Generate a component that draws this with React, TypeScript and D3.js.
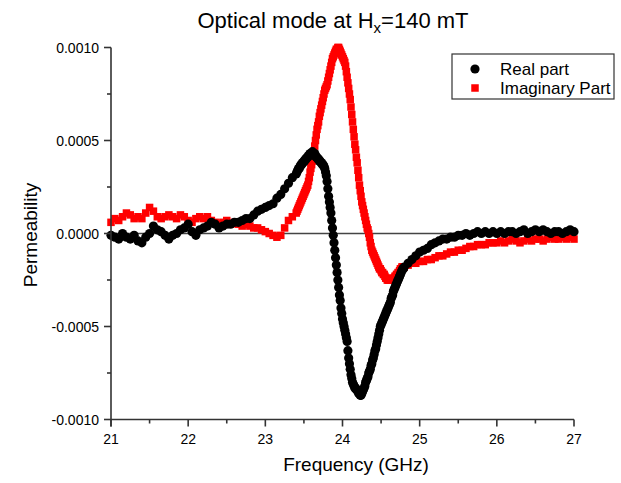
import React from 'react';
import * as d3 from 'd3';

// Frequencies (GHz): coarse outside the resonance, fine through it
const frequencyLow = [
  21.0, 21.05, 21.1, 21.15, 21.2, 21.25, 21.3, 21.35, 21.4, 21.45,
  21.5, 21.55, 21.6, 21.65, 21.7, 21.75, 21.8, 21.85, 21.9, 21.95,
  22.0, 22.05, 22.1, 22.15, 22.2, 22.25, 22.3, 22.35, 22.4, 22.45,
  22.5, 22.55, 22.6, 22.65, 22.7, 22.75, 22.8, 22.85, 22.9, 22.95,
  23.0, 23.05, 23.1, 23.15, 23.2, 23.25, 23.3, 23.35, 23.4,
];
const frequencyMid = [
  23.41, 23.42, 23.43, 23.44, 23.45, 23.46, 23.47, 23.48, 23.49, 23.5,
  23.51, 23.52, 23.53, 23.54, 23.55, 23.56, 23.57, 23.58, 23.59, 23.6,
  23.61, 23.62, 23.63, 23.64, 23.65, 23.66, 23.67, 23.68, 23.69, 23.7,
  23.71, 23.72, 23.73, 23.74, 23.75, 23.76, 23.77, 23.78, 23.79, 23.8,
  23.81, 23.82, 23.83, 23.84, 23.85, 23.86, 23.87, 23.88, 23.89, 23.9,
  23.91, 23.92, 23.93, 23.94, 23.95, 23.96, 23.97, 23.98, 23.99, 24.0,
  24.01, 24.02, 24.03, 24.04, 24.05, 24.06, 24.07, 24.08, 24.09, 24.1,
  24.11, 24.12, 24.13, 24.14, 24.15, 24.16, 24.17, 24.18, 24.19, 24.2,
  24.21, 24.22, 24.23, 24.24, 24.25, 24.26, 24.27, 24.28, 24.29, 24.3,
  24.31, 24.32, 24.33, 24.34, 24.35, 24.36, 24.37, 24.38, 24.39, 24.4,
  24.41, 24.42, 24.43, 24.44, 24.45, 24.46, 24.47, 24.48, 24.49, 24.5,
  24.51, 24.52, 24.53, 24.54, 24.55, 24.56, 24.57, 24.58, 24.59, 24.6,
  24.61, 24.62, 24.63, 24.64, 24.65, 24.66, 24.67, 24.68, 24.69, 24.7,
  24.71, 24.72, 24.73, 24.74, 24.75, 24.76, 24.77, 24.78, 24.79, 24.8,
];
const frequencyHigh = [
  24.85, 24.9, 24.95, 25.0, 25.05, 25.1,
  25.15, 25.2, 25.25, 25.3, 25.35, 25.4, 25.45, 25.5, 25.55, 25.6,
  25.65, 25.7, 25.75, 25.8, 25.85, 25.9, 25.95, 26.0, 26.05, 26.1,
  26.15, 26.2, 26.25, 26.3, 26.35, 26.4, 26.45, 26.5, 26.55, 26.6,
  26.65, 26.7, 26.75, 26.8, 26.85, 26.9, 26.95, 27.0,
];

// Real part of permeability
const realLow = [
  -0.00001, -0.00002, -0.00003, 0.0, -0.00002, -0.00003, -0.00001, -0.00004, -0.00005, -0.00002,
  0.0, 0.00004, 0.00002, 0.00001, -0.00001, -0.00003, -0.00001, 0.0, 0.00002, 0.00003,
  0.00005, 0.00001, -0.00001, 0.00002, 0.00003, 0.00004, 0.00006, 0.00005, 0.00003, 0.00004,
  0.00005, 0.00005, 0.00006, 0.00006, 0.00007, 0.00008, 0.00008, 0.0001, 0.00012, 0.00013,
  0.00014, 0.00015, 0.00016, 0.00019, 0.00021, 0.00024, 0.00027, 0.0003, 0.00032,
];
const realMid = [
  0.00033, 0.00034, 0.00035, 0.00035, 0.00036, 0.00037, 0.00037, 0.00038, 0.00038, 0.00039,
  0.00039, 0.0004, 0.0004, 0.00041, 0.00041, 0.00042, 0.00042, 0.00043, 0.00043, 0.00043,
  0.00044, 0.00043, 0.00042, 0.00043, 0.00042, 0.00041, 0.00041, 0.0004, 0.0004, 0.00039,
  0.00039, 0.00038, 0.00038, 0.00037, 0.00037, 0.00036, 0.00035, 0.00033, 0.00031, 0.00028,
  0.00024, 0.0002, 0.00017, 0.00014, 0.00011, 0.00007, 0.00003, -0.00001, -0.00005, -0.00009,
  -0.00013, -0.00017, -0.00021, -0.00025, -0.00029, -0.00033, -0.00036, -0.0004, -0.00043, -0.00046,
  -0.00048, -0.0005, -0.00052, -0.00054, -0.00056, -0.00058, -0.00063, -0.00067, -0.0007, -0.00073,
  -0.00076, -0.00078, -0.0008, -0.00081, -0.00082, -0.00083, -0.00083, -0.00084, -0.00084, -0.00085,
  -0.00086, -0.00086, -0.00087, -0.00087, -0.00086, -0.00085, -0.00084, -0.00083, -0.00082, -0.0008,
  -0.00079, -0.00078, -0.00077, -0.00075, -0.00074, -0.00073, -0.00071, -0.0007, -0.00068, -0.00067,
  -0.00065, -0.00063, -0.00062, -0.0006, -0.00058, -0.00056, -0.00054, -0.00052, -0.0005, -0.00049,
  -0.00048, -0.00047, -0.00046, -0.00045, -0.00044, -0.00043, -0.00042, -0.00041, -0.0004, -0.00039,
  -0.00038, -0.00037, -0.00035, -0.00034, -0.00033, -0.00031, -0.0003, -0.00029, -0.00028, -0.00027,
  -0.00026, -0.00025, -0.00024, -0.00023, -0.00022, -0.00021, -0.0002, -0.00019, -0.00019, -0.00018,
];
const realHigh = [
  -0.00016, -0.00014, -0.00012, -0.0001, -0.00009, -0.00008,
  -0.00006, -0.00005, -0.00004, -0.00003, -0.00003, -0.00002, -0.00002, -0.00001, -0.00001, 0.0,
  -0.00001, 0.0, 0.00001, 0.0, 0.00001, 0.0, 0.00001, 0.0, 0.00001, 0.0,
  0.00001, 0.00001, 0.0, 0.00001, 0.00002, 0.0, 0.00001, 0.00002, 0.00001, 0.00002,
  0.00001, 0.0, 0.00001, 0.00001, 0.0, 0.00001, 0.00002, 0.00001,
];

// Imaginary part of permeability
const imagLow = [
  0.00006, 0.00008, 0.00007, 0.00009, 0.00011, 0.0001, 0.00008, 0.00009, 0.00008, 0.00011,
  0.00014, 0.00012, 0.00009, 0.00008, 0.00009, 0.0001, 0.00009, 0.00008, 0.0001, 0.00009,
  0.00007, 0.00006, 0.00008, 0.00009, 0.00008, 0.00009, 0.00007, 0.00006, 0.00005, 0.00006,
  0.00007, 0.00005, 0.00006, 0.00005, 0.00004, 0.00005, 0.00004, 0.00003, 0.00003, 0.00002,
  0.00001, 0.0, -0.00001, -0.00002, -0.00001, 0.00003, 0.00007, 0.00009, 0.00011,
];
const imagMid = [
  0.00012, 0.00013, 0.00014, 0.00015, 0.00016, 0.00017, 0.00018, 0.00019, 0.0002, 0.00021,
  0.00022, 0.00023, 0.00024, 0.00025, 0.00026, 0.00028, 0.0003, 0.00033, 0.00035, 0.00037,
  0.00039, 0.00041, 0.00044, 0.00047, 0.0005, 0.00053, 0.00056, 0.00058, 0.0006, 0.00063,
  0.00065, 0.00067, 0.00069, 0.00071, 0.00073, 0.00075, 0.00077, 0.00078, 0.00079, 0.0008,
  0.00082, 0.00084, 0.00086, 0.00088, 0.0009, 0.00092, 0.00094, 0.00095, 0.00096, 0.00097,
  0.00098, 0.00099, 0.00099, 0.001, 0.001, 0.00099, 0.00098, 0.00097, 0.00096, 0.00095,
  0.00094, 0.00093, 0.00092, 0.0009, 0.00087, 0.00084, 0.00081, 0.00078, 0.00075, 0.00072,
  0.00068, 0.00064, 0.0006, 0.00056, 0.00052, 0.00048, 0.00045, 0.00041, 0.00038, 0.00034,
  0.0003, 0.00026, 0.00023, 0.0002, 0.00017, 0.00015, 0.00013, 0.00011, 0.00009, 0.00007,
  0.00005, 0.00003, 0.00002, 0.0, -0.00002, -0.00005, -0.00007, -0.00009, -0.0001, -0.00011,
  -0.00012, -0.00013, -0.00014, -0.00015, -0.00016, -0.00017, -0.00018, -0.00019, -0.00019, -0.0002,
  -0.00021, -0.00021, -0.00022, -0.00022, -0.00023, -0.00024, -0.00024, -0.00025, -0.00025, -0.00025,
  -0.00025, -0.00025, -0.00025, -0.00025, -0.00025, -0.00024, -0.00024, -0.00023, -0.00023, -0.00022,
  -0.00022, -0.00021, -0.00021, -0.0002, -0.00019, -0.00019, -0.00018, -0.00018, -0.00018, -0.00018,
];
const imagHigh = [
  -0.00017, -0.00016, -0.00016, -0.00015, -0.00015, -0.00014,
  -0.00014, -0.00013, -0.00012, -0.00012, -0.00011, -0.0001, -0.0001, -0.00009, -0.00009, -0.00008,
  -0.00007, -0.00007, -0.00006, -0.00006, -0.00006, -0.00005, -0.00005, -0.00005, -0.00004, -0.00005,
  -0.00004, -0.00003, -0.00004, -0.00005, -0.00004, -0.00003, -0.00004, -0.00003, -0.00003, -0.00004,
  -0.00003, -0.00002, -0.00003, -0.00003, -0.00002, -0.00003, -0.00002, -0.00003,
];

const xTickValues = [21, 22, 23, 24, 25, 26, 27];
const xTickLabels = ['21', '22', '23', '24', '25', '26', '27'];
const yTickValues = [-0.001, -0.0005, 0, 0.0005, 0.001];
const yTickLabels = ['-0.0010', '-0.0005', '0.0000', '0.0005', '0.0010'];
const seriesNames = ['Real part', 'Imaginary Part'];

const FONT = 'Liberation Sans, Arial, sans-serif';
const AXIS = '#333';

export default function App() {
  const width = 621;
  const height = 483;
  const x = d3.scaleLinear().domain([21, 27]).range([111, 574]);
  const y = d3.scaleLinear().domain([-0.001, 0.001]).range([419.5, 47.5]);

  const frequency = [...frequencyLow, ...frequencyMid, ...frequencyHigh];
  const real = [...realLow, ...realMid, ...realHigh];
  const imag = [...imagLow, ...imagMid, ...imagHigh];

  const xMinor = xTickValues.slice(0, -1).map((v, i) => (v + xTickValues[i + 1]) / 2);
  const yMinor = yTickValues.slice(0, -1).map((v, i) => (v + yTickValues[i + 1]) / 2);

  const [x0, x1] = x.range();
  const [yBottom, yTop] = y.range();
  const sq = 7.5;

  return (
    <svg width={width} height={height} style={{ position: 'absolute', left: 0, top: 0, background: '#fff' }} fontFamily={FONT}>
      <rect x={0} y={0} width={width} height={height} fill="#fff" />
      {/* title */}
      <text x={333} y={28} textAnchor="middle" fontSize={22} fill="#000">
        Optical mode at H<tspan dy={5} fontSize={15}>x</tspan>
        <tspan dy={-5}>=140 mT</tspan>
      </text>

      {/* zero line */}
      <line x1={x0} x2={x1} y1={y(0)} y2={y(0)} stroke="#444" strokeWidth={1.5} />

      {/* imaginary part squares */}
      <g fill="#ff0000">
        {frequency.map((f, i) => (
          <rect key={'i' + i} x={x(f) - sq / 2} y={y(imag[i]) - sq / 2} width={sq} height={sq} />
        ))}
      </g>
      {/* real part circles */}
      <g fill="#000">
        {frequency.map((f, i) => (
          <circle key={'r' + i} cx={x(f)} cy={y(real[i])} r={4.6} />
        ))}
      </g>

      {/* axes */}
      <line x1={x0} x2={x0} y1={yTop} y2={yBottom + 7} stroke={AXIS} strokeWidth={1.6} />
      <line x1={x0} x2={x1} y1={yBottom} y2={yBottom} stroke={AXIS} strokeWidth={1.6} />
      {xTickValues.map((v, i) => (
        <g key={'xt' + i}>
          <line x1={x(v)} x2={x(v)} y1={yBottom} y2={yBottom + 7} stroke={AXIS} strokeWidth={1.6} />
          <text x={x(v)} y={yBottom + 24} textAnchor="middle" fontSize={14} fill="#000">
            {xTickLabels[i]}
          </text>
        </g>
      ))}
      {xMinor.map((v, i) => (
        <line key={'xm' + i} x1={x(v)} x2={x(v)} y1={yBottom} y2={yBottom + 4} stroke={AXIS} strokeWidth={1.6} />
      ))}
      {yTickValues.map((v, i) => (
        <g key={'yt' + i}>
          <line x1={x0 - 7} x2={x0} y1={y(v)} y2={y(v)} stroke={AXIS} strokeWidth={1.6} />
          <text x={x0 - 12} y={y(v) + 5} textAnchor="end" fontSize={14} fill="#000">
            {yTickLabels[i]}
          </text>
        </g>
      ))}
      {yMinor.map((v, i) => (
        <line key={'ym' + i} x1={x0 - 4} x2={x0} y1={y(v)} y2={y(v)} stroke={AXIS} strokeWidth={1.6} />
      ))}

      {/* axis titles */}
      <text x={356} y={471} textAnchor="middle" fontSize={19} fill="#000">
        Frequency (GHz)
      </text>
      <text transform={`translate(37,235) rotate(-90)`} textAnchor="middle" fontSize={19} fill="#000">
        Permeability
      </text>

      {/* legend */}
      <rect x={452} y={54} width={162} height={45} fill="#fff" stroke={AXIS} strokeWidth={1.2} />
      <circle cx={475} cy={69} r={4.6} fill="#000" />
      <rect x={475 - 3.75} y={88 - 3.75} width={7.5} height={7.5} fill="#ff0000" />
      <text x={500} y={75} fontSize={17} fill="#000">{seriesNames[0]}</text>
      <text x={500} y={94} fontSize={17} fill="#000">{seriesNames[1]}</text>
    </svg>
  );
}
